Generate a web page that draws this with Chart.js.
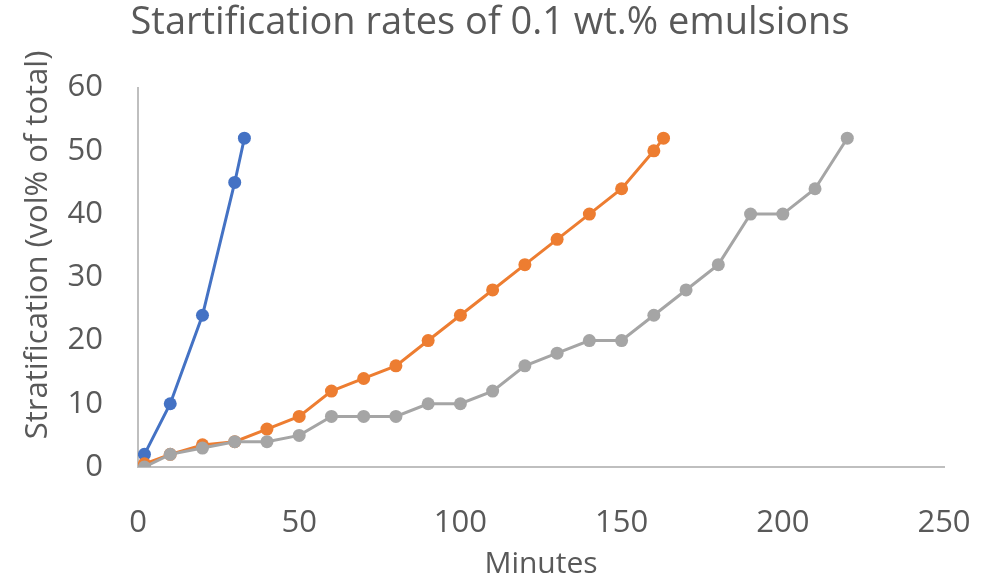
<!DOCTYPE html>
<html>
<head>
<meta charset="utf-8">
<script src="https://cdn.jsdelivr.net/npm/chart.js@4.4.1/dist/chart.umd.min.js"></script>
<style>
  html, body { margin: 0; padding: 0; background: #fff; }
  #wrap { width: 994px; height: 582px; }
</style>
</head>
<body>
<div id="wrap"><canvas id="grafico" width="994" height="582"></canvas></div>
<script>
// Dados (minutos / % estratificada)
const tempoAzul = [2, 10, 20, 30, 33];
const valorAzul = [2, 10, 24, 45, 52];

const tempoLaranja = [2, 10, 20, 30, 40, 50, 60, 70, 80, 90, 100, 110, 120, 130, 140, 150, 160, 163];
const valorLaranja = [0.5, 2, 3.5, 4, 6, 8, 12, 14, 16, 20, 24, 28, 32, 36, 40, 44, 50, 52];

const tempoCinza = [2, 10, 20, 30, 40, 50, 60, 70, 80, 90, 100, 110, 120, 130, 140, 150, 160, 170, 180, 190, 200, 210, 220];
const valorCinza = [0, 2, 3, 4, 4, 5, 8, 8, 8, 10, 10, 12, 16, 18, 20, 20, 24, 28, 32, 40, 40, 44, 52];

const ticksX = [0, 50, 100, 150, 200, 250];
const ticksY = [0, 10, 20, 30, 40, 50, 60];

const tituloGrafico = 'Startification rates of 0.1 wt.% emulsions';
const tituloX = 'Minutes';
const tituloY = 'Stratification (vol% of total)';

const corTexto = '#595959';
const fonte = "'Open Sans', sans-serif";

function pontos(xs, ys) {
    return xs.map((x, i) => ({ x: x, y: ys[i] }));
}

function serie(xs, ys, cor, ordem) {
    return {
        data: pontos(xs, ys),
        borderColor: cor,
        backgroundColor: cor,
        borderWidth: 3,
        pointRadius: 6.5,
        pointBorderWidth: 0,
        pointBackgroundColor: cor,
        tension: 0,
        order: ordem
    };
}

// Titulo do eixo Y desenhado a mao (no original fica deslocado para cima)
const tituloEixoY = {
    id: 'tituloEixoY',
    afterDraw(chart) {
        const ctx = chart.ctx;
        ctx.save();
        ctx.translate(47, 245);
        ctx.rotate(-Math.PI / 2);
        ctx.font = "31px " + fonte;
        ctx.fillStyle = corTexto;
        ctx.textAlign = 'center';
        ctx.textBaseline = 'alphabetic';
        ctx.fillText(tituloY, 0, 0);
        ctx.restore();
    }
};

new Chart(document.getElementById('grafico').getContext('2d'), {
    type: 'line',
    data: {
        datasets: [
            serie(tempoAzul, valorAzul, '#4472C4', 2),
            serie(tempoLaranja, valorLaranja, '#ED7D31', 1),
            serie(tempoCinza, valorCinza, '#A5A5A5', 0)
        ]
    },
    options: {
        responsive: false,
        animation: false,
        layout: { padding: { left: 0, right: 14, top: 0, bottom: 0 } },
        plugins: {
            legend: { display: false },
            tooltip: { enabled: false },
            title: {
                display: true,
                text: tituloGrafico,
                color: corTexto,
                font: { family: fonte, size: 38, weight: 'normal', lineHeight: 1.2 },
                padding: { top: 0, bottom: 42 }
            }
        },
        scales: {
            x: {
                type: 'linear',
                min: 0,
                max: 250,
                afterFit(scale) {
                    scale.height = 115;
                    scale.paddingLeft = 0;
                    scale.paddingRight = 50;
                },
                afterBuildTicks(scale) { scale.ticks = ticksX.map(v => ({ value: v })); },
                grid: { display: false },
                border: { display: true, color: '#BFBFBF', width: 2 },
                ticks: { color: corTexto, font: { family: fonte, size: 31 }, padding: 30, maxRotation: 0 },
                title: {
                    display: true,
                    text: tituloX,
                    color: corTexto,
                    font: { family: fonte, size: 30, lineHeight: 1.2 },
                    padding: { top: 0, bottom: 0 }
                }
            },
            y: {
                type: 'linear',
                min: 0,
                max: 60,
                afterFit(scale) {
                    scale.width = 138;
                    scale.paddingTop = 0;
                    scale.paddingBottom = 0;
                },
                afterBuildTicks(scale) { scale.ticks = ticksY.map(v => ({ value: v })); },
                grid: { display: false },
                border: { display: true, color: '#BFBFBF', width: 2 },
                ticks: { color: corTexto, font: { family: fonte, size: 31 }, padding: 27 }
            }
        }
    },
    plugins: [tituloEixoY]
});
</script>
</body>
</html>
